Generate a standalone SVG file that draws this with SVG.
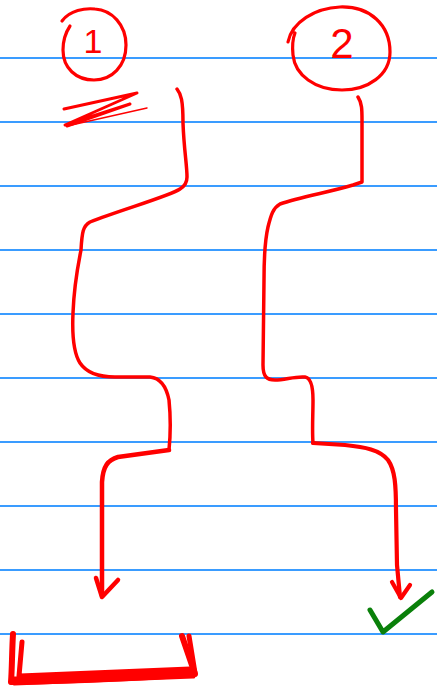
<svg xmlns="http://www.w3.org/2000/svg" width="437" height="690" viewBox="0 0 437 690">
<style>
.rule{stroke:#3a9cff;stroke-width:1.8}
.red{fill:none;stroke:#ff0000;stroke-linecap:round;stroke-linejoin:round}
.num{fill:#ff0000;font-family:"Liberation Sans",Arial,sans-serif;text-anchor:middle}
</style>
<rect width="437" height="690" fill="#ffffff"/>
<g id="ruled-lines">
<line class="rule" x1="0" y1="58" x2="437" y2="58"/>
<line class="rule" x1="0" y1="122" x2="437" y2="122"/>
<line class="rule" x1="0" y1="186" x2="437" y2="186"/>
<line class="rule" x1="0" y1="250" x2="437" y2="250"/>
<line class="rule" x1="0" y1="314" x2="437" y2="314"/>
<line class="rule" x1="0" y1="378" x2="437" y2="378"/>
<line class="rule" x1="0" y1="442" x2="437" y2="442"/>
<line class="rule" x1="0" y1="506" x2="437" y2="506"/>
<line class="rule" x1="0" y1="570" x2="437" y2="570"/>
<line class="rule" x1="0" y1="634" x2="437" y2="634"/>
</g>
<g id="label-1">
<path class="red" stroke-width="3.2" d="M62,21 C70,10 85,8 95,9 C112,10 126,25 126,45 C126,66 112,80 94,80 C76,80 63,68 63,50 C63,40 66,32 70,26"/>
<text class="num" x="93" y="53" font-size="34">1</text>
</g>
<g id="label-2">
<path class="red" stroke-width="3.2" d="M288,42 C292,22 315,8 340,7 C370,6 390,25 390,52 C390,75 368,90 342,90 C315,90 295,75 293,55 C292,45 293,38 295,33"/>
<text class="num" x="342" y="58" font-size="42">2</text>
</g>
<g id="scribble">
<path class="red" stroke-width="3" d="M64,109 L137,93 L65,125 L130,104 L67,126"/>
<path class="red" stroke-width="1.5" d="M67,126 L147,108"/>
</g>
<g id="connectors">
<path class="red" stroke-width="3.5" d="M177,89 C181,94 183,100 183,123 C184,150 187,165 187,177 C187,182 185,186 180,189 C170,196 120,210 90,222 C83,226 82,232 81,250 C78,265 74,285 73,313 C72,335 73,352 80,363 C86,372 98,377 115,377 L150,377 C160,378 166,385 169,400 C171,420 170,440 169,450"/>
<path class="red" stroke-width="4.5" d="M169,450 L118,457 C108,460 103,466 102,482 L102,596"/>
<path class="red" stroke-width="4.5" d="M96,578 L102,597 L118,580"/>
<path class="red" stroke-width="3.5" d="M358,97 C362,103 362,110 362,120 L362,182 L353,185 C330,192 300,197 280,204 C273,208 271,215 268,227 C265,240 264,255 264,280 L263,365 C263,377 267,380 275,380 C285,380 295,376 305,377 C312,378 313,390 313,400 C313,415 312,430 313,443"/>
<path class="red" stroke-width="4.2" d="M313,443 L345,445 C365,447 380,450 388,460 C395,470 396,485 396,510 L397,565 L400,597"/>
<path class="red" stroke-width="4.2" d="M392,582 L401,598 L410,585"/>
</g>
<g id="bracket">
<path class="red" stroke-width="6" d="M13,634 C12,650 12,670 11,682 C60,681 140,678 195,674 L182,636"/>
<path class="red" stroke-width="5" d="M22,642 L19,676 M12,679 L195,672 M189,636 L195,673 M14,683 L193,676 M20,676 L190,669"/>
</g>
<g id="checkmark">
<path fill="none" stroke="#0a800a" stroke-width="5" stroke-linecap="round" stroke-linejoin="round" d="M370,610 L383,632 L432,592"/>
</g>
</svg>
